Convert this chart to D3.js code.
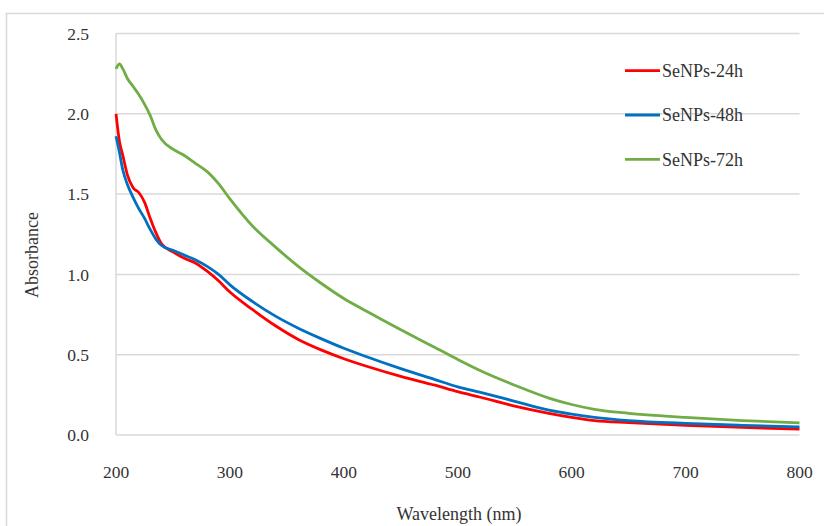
<!DOCTYPE html>
<html>
<head>
<meta charset="utf-8">
<script src="https://cdn.jsdelivr.net/npm/d3@7"></script>
<style>
  body { margin: 0; background: #fff; }
  svg text { font-family: 'Liberation Serif', 'Times New Roman', Times, serif; fill: #333; }
</style>
</head>
<body>
<div id="chart"></div>
<script>
// wavelengths shared by all three spectra
var wavelengths = [200, 203, 206, 210, 215, 220, 225, 230, 235, 240, 250, 260, 270, 280, 290, 300,
                   320, 340, 360, 380, 400, 420, 450, 480, 500, 520, 550, 580, 600, 620, 650, 700, 750, 800];

var seNPs24h = [2.00, 1.83, 1.74, 1.62, 1.54, 1.51, 1.45, 1.35, 1.26, 1.19, 1.14, 1.10, 1.07, 1.02, 0.96, 0.89,
                0.78, 0.68, 0.595, 0.53, 0.475, 0.428, 0.365, 0.31, 0.27, 0.235, 0.18, 0.135, 0.11, 0.09, 0.077, 0.06, 0.047, 0.037];

var seNPs48h = [1.86, 1.76, 1.65, 1.56, 1.48, 1.41, 1.35, 1.28, 1.22, 1.18, 1.15, 1.12, 1.09, 1.05, 1.00, 0.935,
                0.83, 0.74, 0.665, 0.60, 0.54, 0.487, 0.413, 0.345, 0.30, 0.265, 0.21, 0.155, 0.13, 0.11, 0.09, 0.072, 0.06, 0.05];

var seNPs72h = [2.28, 2.31, 2.28, 2.22, 2.17, 2.12, 2.06, 1.99, 1.90, 1.84, 1.78, 1.74, 1.69, 1.64, 1.565, 1.47,
                1.30, 1.17, 1.05, 0.945, 0.85, 0.77, 0.655, 0.545, 0.47, 0.40, 0.31, 0.23, 0.19, 0.16, 0.135, 0.11, 0.09, 0.075];

var seriesNames = ["SeNPs-24h", "SeNPs-48h", "SeNPs-72h"];
var seriesColors = ["#ff0000", "#0070c0", "#70ad47"];
var xTicks = [200, 300, 400, 500, 600, 700, 800];
var yTicks = [0, 0.5, 1.0, 1.5, 2.0, 2.5];

var w = 824;
var h = 526;

var svg = d3.select("#chart")
            .append("svg")
            .attr("width", w)
            .attr("height", h);

// outer frame of the figure
svg.append("rect")
    .attr("x", 6.5)
    .attr("y", 13.5)
    .attr("width", w)
    .attr("height", h)
    .attr("fill", "none")
    .attr("stroke", "#d9d9d9")
    .attr("stroke-width", 1.5);

var xScale = d3.scaleLinear()
                .domain([200, 800])
                .range([116, 799.5]);

var yScale = d3.scaleLinear()
                .domain([0, 2.5])
                .range([435, 33.5]);

// horizontal gridlines
svg.append("g")
    .selectAll("line")
    .data(yTicks)
    .enter()
    .append("line")
    .attr("x1", xScale(200))
    .attr("x2", xScale(800))
    .attr("y1", function(d) { return yScale(d); })
    .attr("y2", function(d) { return yScale(d); })
    .attr("stroke", "#d9d9d9")
    .attr("stroke-width", 1.5);

// left axis line
svg.append("line")
    .attr("x1", xScale(200))
    .attr("x2", xScale(200))
    .attr("y1", yScale(0))
    .attr("y2", yScale(2.5))
    .attr("stroke", "#d9d9d9")
    .attr("stroke-width", 1.5);

// y tick labels
svg.append("g")
    .selectAll("text")
    .data(yTicks)
    .enter()
    .append("text")
    .attr("x", 89)
    .attr("y", function(d) { return yScale(d); })
    .attr("dy", "0.35em")
    .attr("text-anchor", "end")
    .attr("font-size", "17.5px")
    .text(d3.format(".1f"));

// x tick labels
svg.append("g")
    .selectAll("text")
    .data(xTicks)
    .enter()
    .append("text")
    .attr("x", function(d) { return xScale(d); })
    .attr("y", 472)
    .attr("dy", "0.35em")
    .attr("text-anchor", "middle")
    .attr("font-size", "17.5px")
    .text(function(d) { return d; });

svg.append("text")
    .attr("x", 459)
    .attr("y", 514)
    .attr("dy", "0.35em")
    .attr("text-anchor", "middle")
    .attr("font-size", "18px")
    .text("Wavelength (nm)");

svg.append("text")
    .attr("transform", "translate(32,255)rotate(-90)")
    .attr("dy", "0.35em")
    .attr("text-anchor", "middle")
    .attr("font-size", "18px")
    .text("Absorbance");

// the spectra
var allSeries = [seNPs24h, seNPs48h, seNPs72h];

var line = d3.line()
            .x(function(d, i) { return xScale(wavelengths[i]); })
            .y(function(d) { return yScale(d); })
            .curve(d3.curveMonotoneX);

svg.append("g")
    .selectAll("path")
    .data(allSeries)
    .enter()
    .append("path")
    .attr("d", line)
    .attr("fill", "none")
    .attr("stroke", function(d, i) { return seriesColors[i]; })
    .attr("stroke-width", 2.8)
    .attr("stroke-linejoin", "round");

// legend
var legend = svg.append("g")
                .selectAll("g")
                .data(seriesNames)
                .enter()
                .append("g")
                .attr("transform", function(d, i) {
                    return "translate(625," + (70.7 + i * 44.3) + ")";
                });

legend.append("line")
    .attr("x1", 0)
    .attr("x2", 35)
    .attr("stroke", function(d, i) { return seriesColors[i]; })
    .attr("stroke-width", 2.8);

legend.append("text")
    .attr("x", 37)
    .attr("dy", "0.35em")
    .attr("font-size", "18px")
    .text(function(d) { return d; });
</script>
</body>
</html>
